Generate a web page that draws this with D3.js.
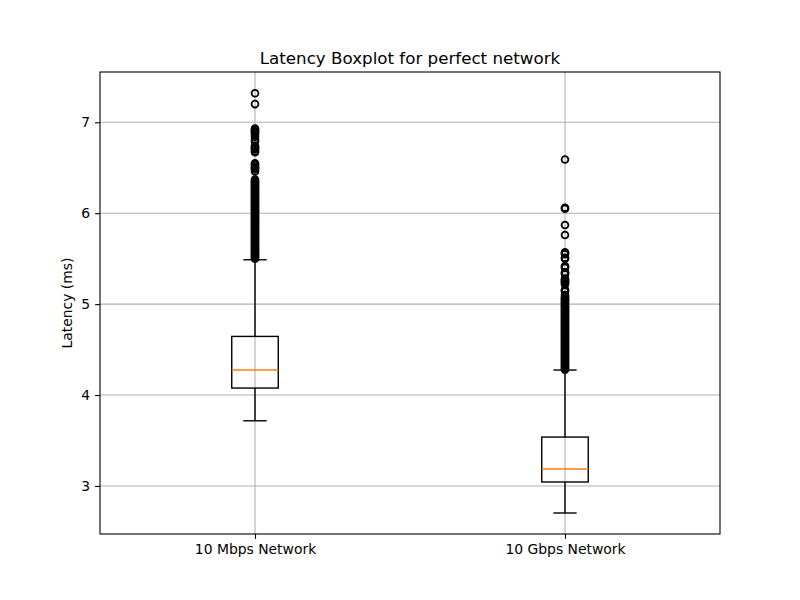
<!DOCTYPE html>
<html><head><meta charset="utf-8">
<script src="https://cdn.jsdelivr.net/npm/d3@7"></script>
<style>
body{margin:0;background:#fff;}
text{font-family:"DejaVu Sans",sans-serif;fill:#000;}
</style></head>
<body><svg id="c" width="800" height="600"></svg>
<script>
const categories = ["10 Mbps Network", "10 Gbps Network"];
const q1 = [4.077, 3.044];
const median = [4.275, 3.187];
const q3 = [4.645, 3.538];
const whiskerLow = [3.717, 2.703];
const whiskerHigh = [5.488, 4.275];
const outliersMbps = [7.32, 7.20, 6.93, 6.92, 6.91, 6.90, 6.89, 6.88, 6.86, 6.84, 6.81, 6.79,
  6.74, 6.73, 6.72, 6.71, 6.70, 6.68, 6.67,
  6.55, 6.54, 6.53, 6.51, 6.50, 6.49, 6.48, 6.46,
  6.37, 6.36, 6.35, 6.34, 6.33, 6.32, 6.31, 6.30, 6.29, 6.28, 6.27, 6.26, 6.25, 6.24, 6.23,
  6.22, 6.21, 6.20, 6.19, 6.18, 6.17, 6.16, 6.15, 6.14, 6.13, 6.12, 6.11, 6.10, 6.09, 6.08,
  6.07, 6.06, 6.05, 6.04, 6.03, 6.02, 6.01, 6.00, 5.99, 5.98, 5.97, 5.96, 5.95, 5.94, 5.93,
  5.92, 5.91, 5.90, 5.89, 5.88, 5.87, 5.86, 5.85, 5.84, 5.83, 5.82, 5.81, 5.80, 5.79, 5.78,
  5.77, 5.76, 5.75, 5.74, 5.73, 5.72, 5.71, 5.70, 5.69, 5.68, 5.67, 5.66, 5.65, 5.64, 5.63,
  5.62, 5.61, 5.60, 5.59, 5.58, 5.57, 5.56, 5.55, 5.54, 5.53, 5.52, 5.51, 5.50];
const outliersGbps = [6.59, 6.06, 6.05, 5.87, 5.76, 5.57, 5.56, 5.55, 5.51, 5.50, 5.42, 5.41,
  5.40, 5.35, 5.34, 5.33, 5.28, 5.27, 5.26, 5.25, 5.24, 5.23, 5.22, 5.16, 5.15, 5.14, 5.10,
  5.08, 5.07, 5.06, 5.05, 5.04, 5.03, 5.02, 5.01, 5.00, 4.99, 4.98, 4.97, 4.96, 4.95, 4.94,
  4.93, 4.92, 4.91, 4.90, 4.89, 4.88, 4.87, 4.86, 4.85, 4.84, 4.83, 4.82, 4.81, 4.80, 4.79,
  4.78, 4.77, 4.76, 4.75, 4.74, 4.73, 4.72, 4.71, 4.70, 4.69, 4.68, 4.67, 4.66, 4.65, 4.64,
  4.63, 4.62, 4.61, 4.60, 4.59, 4.58, 4.57, 4.56, 4.55, 4.54, 4.53, 4.52, 4.51, 4.50, 4.49,
  4.48, 4.47, 4.46, 4.45, 4.44, 4.43, 4.42, 4.41, 4.40, 4.39, 4.38, 4.37, 4.36, 4.35, 4.34,
  4.33, 4.32, 4.31, 4.30, 4.29, 4.28];
const outliers = [outliersMbps, outliersGbps];
const yTicks = [3, 4, 5, 6, 7];
const title = "Latency Boxplot for perfect network";
const yLabel = "Latency (ms)";

const L = 100, R = 720, T = 72, B = 534;
const svg = d3.select("#c");
const x = d3.scaleLinear().domain([0.5, 2.5]).range([L, R]);
const y = d3.scaleLinear().domain([2.472, 7.553]).range([B, T]);
const pos = categories.map((c, i) => i + 1);
const boxW = 0.15, capW = 0.075;

// grid
const g = svg.append("g");
g.selectAll(".gy").data(yTicks).enter().append("line")
  .attr("x1", L).attr("x2", R).attr("y1", d => y(d)).attr("y2", d => y(d))
  .attr("stroke", "#b0b0b0").attr("stroke-width", 1.1);
g.selectAll(".gx").data(pos).enter().append("line")
  .attr("y1", T).attr("y2", B).attr("x1", d => x(d)).attr("x2", d => x(d))
  .attr("stroke", "#b0b0b0").attr("stroke-width", 1.1);

// boxes
const lw = 1.4;
categories.forEach((c, i) => {
  const p = pos[i];
  const bg = svg.append("g");
  bg.append("line").attr("x1", x(p)).attr("x2", x(p)).attr("y1", y(q1[i])).attr("y2", y(whiskerLow[i]))
    .attr("stroke", "#000").attr("stroke-width", lw);
  bg.append("line").attr("x1", x(p)).attr("x2", x(p)).attr("y1", y(q3[i])).attr("y2", y(whiskerHigh[i]))
    .attr("stroke", "#000").attr("stroke-width", lw);
  [whiskerLow[i], whiskerHigh[i]].forEach(v => {
    bg.append("line").attr("x1", x(p - capW / 2)).attr("x2", x(p + capW / 2)).attr("y1", y(v)).attr("y2", y(v))
      .attr("stroke", "#000").attr("stroke-width", lw);
  });
  bg.append("rect").attr("x", x(p - boxW / 2)).attr("y", y(q3[i]))
    .attr("width", x(p + boxW / 2) - x(p - boxW / 2)).attr("height", y(q1[i]) - y(q3[i]))
    .attr("fill", "none").attr("stroke", "#000").attr("stroke-width", lw);
  bg.append("line").attr("x1", x(p - boxW / 2)).attr("x2", x(p + boxW / 2)).attr("y1", y(median[i])).attr("y2", y(median[i]))
    .attr("stroke", "#ff7f0e").attr("stroke-width", lw);
  bg.selectAll("circle").data(outliers[i]).enter().append("circle")
    .attr("cx", x(p)).attr("cy", d => y(d)).attr("r", 3.4)
    .attr("fill", "none").attr("stroke", "#000").attr("stroke-width", 1.8);
});

// spines
svg.append("rect").attr("x", L).attr("y", T).attr("width", R - L).attr("height", B - T)
  .attr("fill", "none").attr("stroke", "#000").attr("stroke-width", 1.1);

// axes
const xAxis = d3.axisBottom(x).tickValues(pos).tickFormat((d, i) => categories[i]).tickSize(4.9).tickPadding(5.5);
const yAxis = d3.axisLeft(y).tickValues(yTicks).tickFormat(d3.format("d")).tickSize(4.9).tickPadding(4.9);
const xa = svg.append("g").attr("transform", `translate(0,${B})`).call(xAxis);
const ya = svg.append("g").attr("transform", `translate(${L},0)`).call(yAxis);
[xa, ya].forEach(a => {
  a.select(".domain").remove();
  a.selectAll(".tick line").attr("stroke", "#000").attr("stroke-width", 1.1);
  a.selectAll("text").attr("font-family", "DejaVu Sans").attr("font-size", "13.9px").attr("fill", "#000");
});

svg.append("text").attr("x", (L + R) / 2).attr("y", 64).attr("text-anchor", "middle")
  .attr("font-size", "16.7px").text(title);
svg.append("text").attr("transform", `translate(72,${(T + B) / 2}) rotate(-90)`).attr("text-anchor", "middle")
  .attr("font-size", "13.9px").text(yLabel);
</script></body></html>
